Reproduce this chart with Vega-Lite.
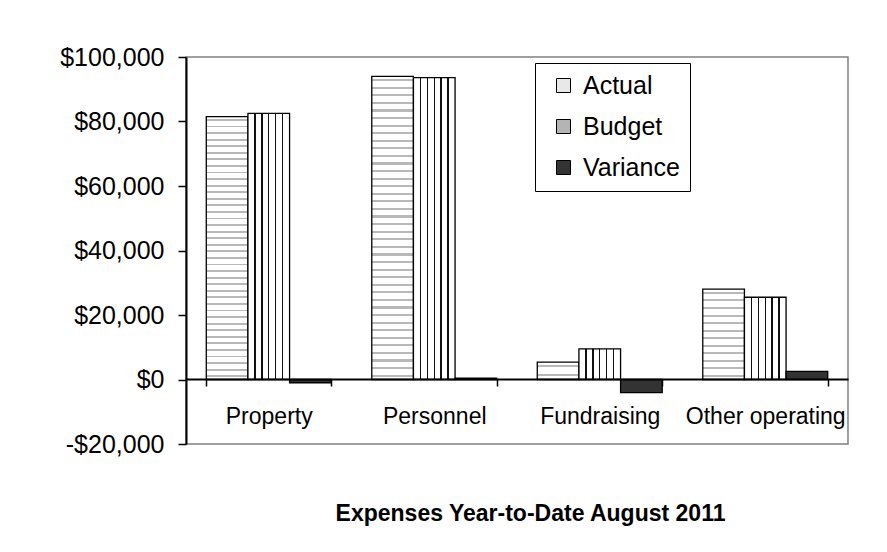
{
  "$schema": "https://vega.github.io/schema/vega-lite/v6.json",
  "width": 662,
  "height": 387,
  "autosize": {"type": "none"},
  "padding": {"left": 186, "top": 57, "right": 39, "bottom": 108},
  "background": "white",
  "data": {
    "values": [
      {"category": "Property", "series": "Actual", "value": 81500},
      {"category": "Property", "series": "Budget", "value": 82500},
      {"category": "Property", "series": "Variance", "value": -1000},
      {"category": "Personnel", "series": "Actual", "value": 94000},
      {"category": "Personnel", "series": "Budget", "value": 93600},
      {"category": "Personnel", "series": "Variance", "value": 400},
      {"category": "Fundraising", "series": "Actual", "value": 5400},
      {"category": "Fundraising", "series": "Budget", "value": 9500},
      {"category": "Fundraising", "series": "Variance", "value": -4100},
      {"category": "Other operating", "series": "Actual", "value": 28000},
      {"category": "Other operating", "series": "Budget", "value": 25500},
      {"category": "Other operating", "series": "Variance", "value": 2500}
    ]
  },
  "mark": {"type": "bar", "stroke": "black", "strokeWidth": 1.3},
  "encoding": {
    "x": {
      "field": "category",
      "type": "nominal",
      "sort": null,
      "scale": {"paddingInner": 0.245, "paddingOuter": 0.1225},
      "axis": {
        "orient": "bottom",
        "offset": -65,
        "zindex": 1,
        "domainColor": "black",
        "domainWidth": 2,
        "tickBand": "extent",
        "tickSize": 7,
        "tickWidth": 1.5,
        "tickColor": "black",
        "labelAngle": 0,
        "labelFont": "Liberation Sans",
        "labelFontSize": 23,
        "labelColor": "black",
        "labelBaseline": "alphabetic",
        "labelPadding": 37,
        "labelOverlap": false,
        "labelLimit": 300,
        "title": "Expenses Year-to-Date August 2011",
        "titleFont": "Liberation Sans",
        "titleFontSize": 23,
        "titleFontWeight": "bold",
        "titleColor": "black",
        "titleX": 344,
        "titleY": 141,
        "titleBaseline": "alphabetic",
        "titleAlign": "center",
        "titleAnchor": null
      }
    },
    "xOffset": {"field": "series", "type": "nominal", "scale": {"paddingInner": 0, "paddingOuter": 0}},
    "y": {
      "field": "value",
      "type": "quantitative",
      "scale": {"domain": [-20000, 100000], "nice": false, "zero": false},
      "axis": {
        "values": [-20000, 0, 20000, 40000, 60000, 80000, 100000],
        "labelExpr": "datum.value < 0 ? '-$' + format(-datum.value, ',') : '$' + format(datum.value, ',')",
        "grid": false,
        "domainColor": "black",
        "domainWidth": 2,
        "tickColor": "black",
        "tickSize": 8,
        "tickWidth": 1.5,
        "labelFont": "Liberation Sans",
        "labelFontSize": 25,
        "labelColor": "black",
        "labelPadding": 14,
        "title": null
      }
    },
    "fill": {
      "field": "series",
      "type": "nominal",
      "scale": {"domain": ["Actual", "Budget", "Variance"], "range": ["#e8e8e8", "#b4b4b4", "#333333"]},
      "condition": [
        {
          "test": "datum.series === 'Budget'",
          "value": {
            "gradient": "linear", "x1": 0, "y1": 0, "x2": 1, "y2": 0,
            "stops": [
              {"offset": 0, "color": "#ffffff"},
              {"offset": 0.149, "color": "#ffffff"}, {"offset": 0.149, "color": "#111111"}, {"offset": 0.184, "color": "#111111"}, {"offset": 0.184, "color": "#ffffff"},
              {"offset": 0.316, "color": "#ffffff"}, {"offset": 0.316, "color": "#111111"}, {"offset": 0.351, "color": "#111111"}, {"offset": 0.351, "color": "#ffffff"},
              {"offset": 0.482, "color": "#ffffff"}, {"offset": 0.482, "color": "#111111"}, {"offset": 0.518, "color": "#111111"}, {"offset": 0.518, "color": "#ffffff"},
              {"offset": 0.649, "color": "#ffffff"}, {"offset": 0.649, "color": "#111111"}, {"offset": 0.684, "color": "#111111"}, {"offset": 0.684, "color": "#ffffff"},
              {"offset": 0.816, "color": "#ffffff"}, {"offset": 0.816, "color": "#111111"}, {"offset": 0.851, "color": "#111111"}, {"offset": 0.851, "color": "#ffffff"},
              {"offset": 1, "color": "#ffffff"}
            ]
          }
        },
        {
          "test": "datum.series === 'Actual' && datum.category === 'Fundraising'",
          "value": {
            "gradient": "linear", "x1": 0, "y1": 0, "x2": 0, "y2": 1,
            "stops": [
              {"offset": 0, "color": "#ffffff"},
              {"offset": 0.19, "color": "#ffffff"}, {"offset": 0.19, "color": "#b8b8b8"}, {"offset": 0.31, "color": "#b8b8b8"}, {"offset": 0.31, "color": "#ffffff"},
              {"offset": 0.69, "color": "#ffffff"}, {"offset": 0.69, "color": "#b8b8b8"}, {"offset": 0.81, "color": "#b8b8b8"}, {"offset": 0.81, "color": "#ffffff"},
              {"offset": 1, "color": "#ffffff"}
            ]
          }
        },
        {
          "test": "datum.series === 'Actual' && datum.category === 'Other operating'",
          "value": {
            "gradient": "linear", "x1": 0, "y1": 0, "x2": 0, "y2": 1,
            "stops": [
              {"offset": 0, "color": "#ffffff"},
              {"offset": 0.031, "color": "#ffffff"}, {"offset": 0.031, "color": "#b8b8b8"}, {"offset": 0.053, "color": "#b8b8b8"}, {"offset": 0.053, "color": "#ffffff"},
              {"offset": 0.114, "color": "#ffffff"}, {"offset": 0.114, "color": "#b8b8b8"}, {"offset": 0.136, "color": "#b8b8b8"}, {"offset": 0.136, "color": "#ffffff"},
              {"offset": 0.198, "color": "#ffffff"}, {"offset": 0.198, "color": "#b8b8b8"}, {"offset": 0.22, "color": "#b8b8b8"}, {"offset": 0.22, "color": "#ffffff"},
              {"offset": 0.281, "color": "#ffffff"}, {"offset": 0.281, "color": "#b8b8b8"}, {"offset": 0.303, "color": "#b8b8b8"}, {"offset": 0.303, "color": "#ffffff"},
              {"offset": 0.364, "color": "#ffffff"}, {"offset": 0.364, "color": "#b8b8b8"}, {"offset": 0.386, "color": "#b8b8b8"}, {"offset": 0.386, "color": "#ffffff"},
              {"offset": 0.448, "color": "#ffffff"}, {"offset": 0.448, "color": "#b8b8b8"}, {"offset": 0.47, "color": "#b8b8b8"}, {"offset": 0.47, "color": "#ffffff"},
              {"offset": 0.531, "color": "#ffffff"}, {"offset": 0.531, "color": "#b8b8b8"}, {"offset": 0.553, "color": "#b8b8b8"}, {"offset": 0.553, "color": "#ffffff"},
              {"offset": 0.614, "color": "#ffffff"}, {"offset": 0.614, "color": "#b8b8b8"}, {"offset": 0.636, "color": "#b8b8b8"}, {"offset": 0.636, "color": "#ffffff"},
              {"offset": 0.698, "color": "#ffffff"}, {"offset": 0.698, "color": "#b8b8b8"}, {"offset": 0.72, "color": "#b8b8b8"}, {"offset": 0.72, "color": "#ffffff"},
              {"offset": 0.781, "color": "#ffffff"}, {"offset": 0.781, "color": "#b8b8b8"}, {"offset": 0.803, "color": "#b8b8b8"}, {"offset": 0.803, "color": "#ffffff"},
              {"offset": 0.864, "color": "#ffffff"}, {"offset": 0.864, "color": "#b8b8b8"}, {"offset": 0.886, "color": "#b8b8b8"}, {"offset": 0.886, "color": "#ffffff"},
              {"offset": 0.948, "color": "#ffffff"}, {"offset": 0.948, "color": "#b8b8b8"}, {"offset": 0.97, "color": "#b8b8b8"}, {"offset": 0.97, "color": "#ffffff"},
              {"offset": 1, "color": "#ffffff"}
            ]
          }
        },
        {
          "test": "datum.series === 'Actual'",
          "value": {
            "gradient": "linear", "x1": 0, "y1": 0, "x2": 0, "y2": 1,
            "stops": [
              {"offset": 0, "color": "#ffffff"},
              {"offset": 0.009, "color": "#ffffff"}, {"offset": 0.009, "color": "#b8b8b8"}, {"offset": 0.016, "color": "#b8b8b8"}, {"offset": 0.016, "color": "#ffffff"},
              {"offset": 0.034, "color": "#ffffff"}, {"offset": 0.034, "color": "#b8b8b8"}, {"offset": 0.041, "color": "#b8b8b8"}, {"offset": 0.041, "color": "#ffffff"},
              {"offset": 0.059, "color": "#ffffff"}, {"offset": 0.059, "color": "#b8b8b8"}, {"offset": 0.066, "color": "#b8b8b8"}, {"offset": 0.066, "color": "#ffffff"},
              {"offset": 0.084, "color": "#ffffff"}, {"offset": 0.084, "color": "#b8b8b8"}, {"offset": 0.091, "color": "#b8b8b8"}, {"offset": 0.091, "color": "#ffffff"},
              {"offset": 0.109, "color": "#ffffff"}, {"offset": 0.109, "color": "#b8b8b8"}, {"offset": 0.116, "color": "#b8b8b8"}, {"offset": 0.116, "color": "#ffffff"},
              {"offset": 0.134, "color": "#ffffff"}, {"offset": 0.134, "color": "#b8b8b8"}, {"offset": 0.141, "color": "#b8b8b8"}, {"offset": 0.141, "color": "#ffffff"},
              {"offset": 0.159, "color": "#ffffff"}, {"offset": 0.159, "color": "#b8b8b8"}, {"offset": 0.166, "color": "#b8b8b8"}, {"offset": 0.166, "color": "#ffffff"},
              {"offset": 0.184, "color": "#ffffff"}, {"offset": 0.184, "color": "#b8b8b8"}, {"offset": 0.191, "color": "#b8b8b8"}, {"offset": 0.191, "color": "#ffffff"},
              {"offset": 0.209, "color": "#ffffff"}, {"offset": 0.209, "color": "#b8b8b8"}, {"offset": 0.216, "color": "#b8b8b8"}, {"offset": 0.216, "color": "#ffffff"},
              {"offset": 0.234, "color": "#ffffff"}, {"offset": 0.234, "color": "#b8b8b8"}, {"offset": 0.241, "color": "#b8b8b8"}, {"offset": 0.241, "color": "#ffffff"},
              {"offset": 0.259, "color": "#ffffff"}, {"offset": 0.259, "color": "#b8b8b8"}, {"offset": 0.266, "color": "#b8b8b8"}, {"offset": 0.266, "color": "#ffffff"},
              {"offset": 0.284, "color": "#ffffff"}, {"offset": 0.284, "color": "#b8b8b8"}, {"offset": 0.291, "color": "#b8b8b8"}, {"offset": 0.291, "color": "#ffffff"},
              {"offset": 0.309, "color": "#ffffff"}, {"offset": 0.309, "color": "#b8b8b8"}, {"offset": 0.316, "color": "#b8b8b8"}, {"offset": 0.316, "color": "#ffffff"},
              {"offset": 0.334, "color": "#ffffff"}, {"offset": 0.334, "color": "#b8b8b8"}, {"offset": 0.341, "color": "#b8b8b8"}, {"offset": 0.341, "color": "#ffffff"},
              {"offset": 0.359, "color": "#ffffff"}, {"offset": 0.359, "color": "#b8b8b8"}, {"offset": 0.366, "color": "#b8b8b8"}, {"offset": 0.366, "color": "#ffffff"},
              {"offset": 0.384, "color": "#ffffff"}, {"offset": 0.384, "color": "#b8b8b8"}, {"offset": 0.391, "color": "#b8b8b8"}, {"offset": 0.391, "color": "#ffffff"},
              {"offset": 0.409, "color": "#ffffff"}, {"offset": 0.409, "color": "#b8b8b8"}, {"offset": 0.416, "color": "#b8b8b8"}, {"offset": 0.416, "color": "#ffffff"},
              {"offset": 0.434, "color": "#ffffff"}, {"offset": 0.434, "color": "#b8b8b8"}, {"offset": 0.441, "color": "#b8b8b8"}, {"offset": 0.441, "color": "#ffffff"},
              {"offset": 0.459, "color": "#ffffff"}, {"offset": 0.459, "color": "#b8b8b8"}, {"offset": 0.466, "color": "#b8b8b8"}, {"offset": 0.466, "color": "#ffffff"},
              {"offset": 0.484, "color": "#ffffff"}, {"offset": 0.484, "color": "#b8b8b8"}, {"offset": 0.491, "color": "#b8b8b8"}, {"offset": 0.491, "color": "#ffffff"},
              {"offset": 0.509, "color": "#ffffff"}, {"offset": 0.509, "color": "#b8b8b8"}, {"offset": 0.516, "color": "#b8b8b8"}, {"offset": 0.516, "color": "#ffffff"},
              {"offset": 0.534, "color": "#ffffff"}, {"offset": 0.534, "color": "#b8b8b8"}, {"offset": 0.541, "color": "#b8b8b8"}, {"offset": 0.541, "color": "#ffffff"},
              {"offset": 0.559, "color": "#ffffff"}, {"offset": 0.559, "color": "#b8b8b8"}, {"offset": 0.566, "color": "#b8b8b8"}, {"offset": 0.566, "color": "#ffffff"},
              {"offset": 0.584, "color": "#ffffff"}, {"offset": 0.584, "color": "#b8b8b8"}, {"offset": 0.591, "color": "#b8b8b8"}, {"offset": 0.591, "color": "#ffffff"},
              {"offset": 0.609, "color": "#ffffff"}, {"offset": 0.609, "color": "#b8b8b8"}, {"offset": 0.616, "color": "#b8b8b8"}, {"offset": 0.616, "color": "#ffffff"},
              {"offset": 0.634, "color": "#ffffff"}, {"offset": 0.634, "color": "#b8b8b8"}, {"offset": 0.641, "color": "#b8b8b8"}, {"offset": 0.641, "color": "#ffffff"},
              {"offset": 0.659, "color": "#ffffff"}, {"offset": 0.659, "color": "#b8b8b8"}, {"offset": 0.666, "color": "#b8b8b8"}, {"offset": 0.666, "color": "#ffffff"},
              {"offset": 0.684, "color": "#ffffff"}, {"offset": 0.684, "color": "#b8b8b8"}, {"offset": 0.691, "color": "#b8b8b8"}, {"offset": 0.691, "color": "#ffffff"},
              {"offset": 0.709, "color": "#ffffff"}, {"offset": 0.709, "color": "#b8b8b8"}, {"offset": 0.716, "color": "#b8b8b8"}, {"offset": 0.716, "color": "#ffffff"},
              {"offset": 0.734, "color": "#ffffff"}, {"offset": 0.734, "color": "#b8b8b8"}, {"offset": 0.741, "color": "#b8b8b8"}, {"offset": 0.741, "color": "#ffffff"},
              {"offset": 0.759, "color": "#ffffff"}, {"offset": 0.759, "color": "#b8b8b8"}, {"offset": 0.766, "color": "#b8b8b8"}, {"offset": 0.766, "color": "#ffffff"},
              {"offset": 0.784, "color": "#ffffff"}, {"offset": 0.784, "color": "#b8b8b8"}, {"offset": 0.791, "color": "#b8b8b8"}, {"offset": 0.791, "color": "#ffffff"},
              {"offset": 0.809, "color": "#ffffff"}, {"offset": 0.809, "color": "#b8b8b8"}, {"offset": 0.816, "color": "#b8b8b8"}, {"offset": 0.816, "color": "#ffffff"},
              {"offset": 0.834, "color": "#ffffff"}, {"offset": 0.834, "color": "#b8b8b8"}, {"offset": 0.841, "color": "#b8b8b8"}, {"offset": 0.841, "color": "#ffffff"},
              {"offset": 0.859, "color": "#ffffff"}, {"offset": 0.859, "color": "#b8b8b8"}, {"offset": 0.866, "color": "#b8b8b8"}, {"offset": 0.866, "color": "#ffffff"},
              {"offset": 0.884, "color": "#ffffff"}, {"offset": 0.884, "color": "#b8b8b8"}, {"offset": 0.891, "color": "#b8b8b8"}, {"offset": 0.891, "color": "#ffffff"},
              {"offset": 0.909, "color": "#ffffff"}, {"offset": 0.909, "color": "#b8b8b8"}, {"offset": 0.916, "color": "#b8b8b8"}, {"offset": 0.916, "color": "#ffffff"},
              {"offset": 0.934, "color": "#ffffff"}, {"offset": 0.934, "color": "#b8b8b8"}, {"offset": 0.941, "color": "#b8b8b8"}, {"offset": 0.941, "color": "#ffffff"},
              {"offset": 0.959, "color": "#ffffff"}, {"offset": 0.959, "color": "#b8b8b8"}, {"offset": 0.966, "color": "#b8b8b8"}, {"offset": 0.966, "color": "#ffffff"},
              {"offset": 0.984, "color": "#ffffff"}, {"offset": 0.984, "color": "#b8b8b8"}, {"offset": 0.991, "color": "#b8b8b8"}, {"offset": 0.991, "color": "#ffffff"},
              {"offset": 1, "color": "#ffffff"}
            ]
          }
        }
      ],
      "legend": {
        "orient": "none",
        "legendX": 349,
        "legendY": 6,
        "title": null,
        "strokeColor": "black",
        "fillColor": "white",
        "padding": 10,
        "symbolType": "square",
        "symbolSize": 196,
        "symbolStrokeColor": "black",
        "symbolStrokeWidth": 1,
        "symbolOffset": 6,
        "labelOffset": 7,
        "labelFont": "Liberation Sans",
        "labelFontSize": 25,
        "labelColor": "black",
        "rowPadding": 15
      }
    }
  },
  "config": {
    "view": {"stroke": "#808080", "strokeWidth": 1.5}
  }
}
